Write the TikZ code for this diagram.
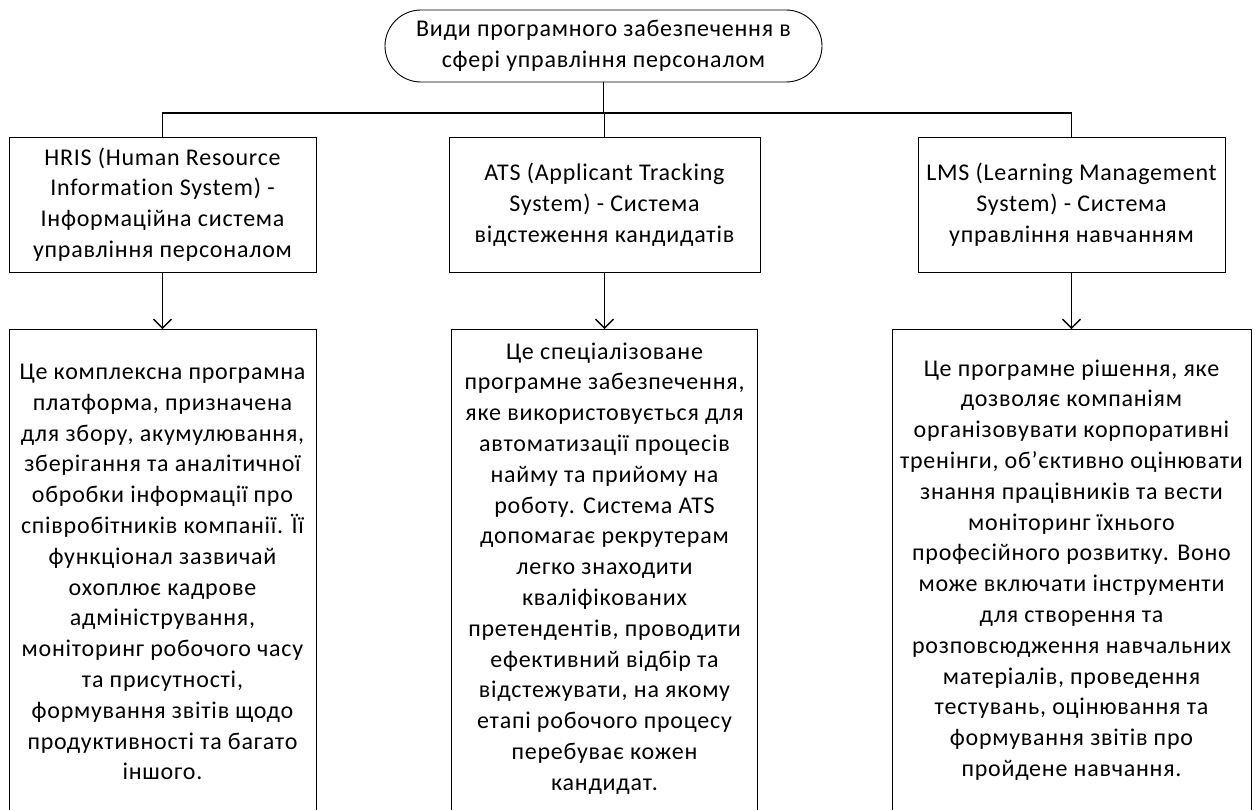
\documentclass[tikz,border=0pt]{standalone}
\usepackage{fontspec}
\setmainfont{Carlito}[Ligatures={NoCommon},LetterSpace=3.2]
\usetikzlibrary{arrows.meta}
\begin{document}
\begin{tikzpicture}[x=1pt,y=-1pt,
  txt/.style={align=center,inner sep=0pt,font=\fontsize{24}{30.8}\selectfont},
  box/.style={txt,draw,line width=0.9pt},
  conn/.style={line width=1.3pt},
  arr/.style={conn,-{Straight Barb[length=9pt,width=18pt]}}]
\useasboundingbox (0,0) rectangle (1259,810);
\clip (0,0) rectangle (1259,810);
% top
\node[box,rounded corners=36pt,minimum width=437pt,minimum height=72pt] (top) at (603.5,46)
  {Види програмного забезпечення в\\сфері управління персоналом};
% headers
\node[box,minimum width=307pt,minimum height=135pt] (hris) at (162.5,204.5)
  {HRIS (Human Resource\\Information System) -\\Інформаційна система\\управління персоналом};
\node[box,minimum width=311pt,minimum height=135pt] (ats) at (604.5,204.5)
  {ATS (Applicant Tracking\\System) - Система\\відстеження кандидатів};
\node[box,minimum width=307pt,minimum height=135pt] (lms) at (1071.5,204.5)
  {LMS (Learning Management\\System) - Система\\управління навчанням};
% detail boxes
\node[box,minimum width=307pt,minimum height=501pt] (hrisD) at (162.5,580) {};
\node[box,minimum width=306pt,minimum height=501pt] (atsD) at (604.5,580) {};
\node[box,minimum width=359pt,minimum height=501pt] (lmsD) at (1071.5,580) {};
\node[txt] (hrisT) at (162.5,572) {Це комплексна програмна\\платформа, призначена\\для збору, акумулювання,\\зберігання та аналітичної\\обробки інформації про\\співробітників компанії. Її\\функціонал зазвичай\\охоплює кадрове\\адміністрування,\\моніторинг робочого часу\\та присутності,\\формування звітів щодо\\продуктивності та багато\\іншого.};
\node[txt] (atsT) at (604.5,568.5) {Це спеціалізоване\\програмне забезпечення,\\яке використовується для\\автоматизації процесів\\найму та прийому на\\роботу. Система ATS\\допомагає рекрутерам\\легко знаходити\\кваліфікованих\\претендентів, проводити\\ефективний відбір та\\відстежувати, на якому\\етапі робочого процесу\\перебуває кожен\\кандидат.};
\node[txt] (lmsT) at (1071.5,570) {Це програмне рішення, яке\\дозволяє компаніям\\організовувати корпоративні\\тренінги, об{\char"0027}єктивно оцінювати\\знання працівників та вести\\моніторинг їхнього\\професійного розвитку. Воно\\може включати інструменти\\для створення та\\розповсюдження навчальних\\матеріалів, проведення\\тестувань, оцінювання та\\формування звітів про\\пройдене навчання.};
% connectors
\coordinate (bar) at (604.5,113);
\draw[conn] (top.south) -- (top.south |- bar);
\draw[conn] (hris.north) -- (hris.north |- bar) -- (lms.north |- bar) -- (lms.north);
\draw[conn] (ats.north |- bar) -- (ats.north);
\draw[arr] (hris.south) -- (hrisD.north);
\draw[arr] (ats.south) -- (atsD.north);
\draw[arr] (lms.south) -- (lmsD.north);
\end{tikzpicture}
\end{document}
